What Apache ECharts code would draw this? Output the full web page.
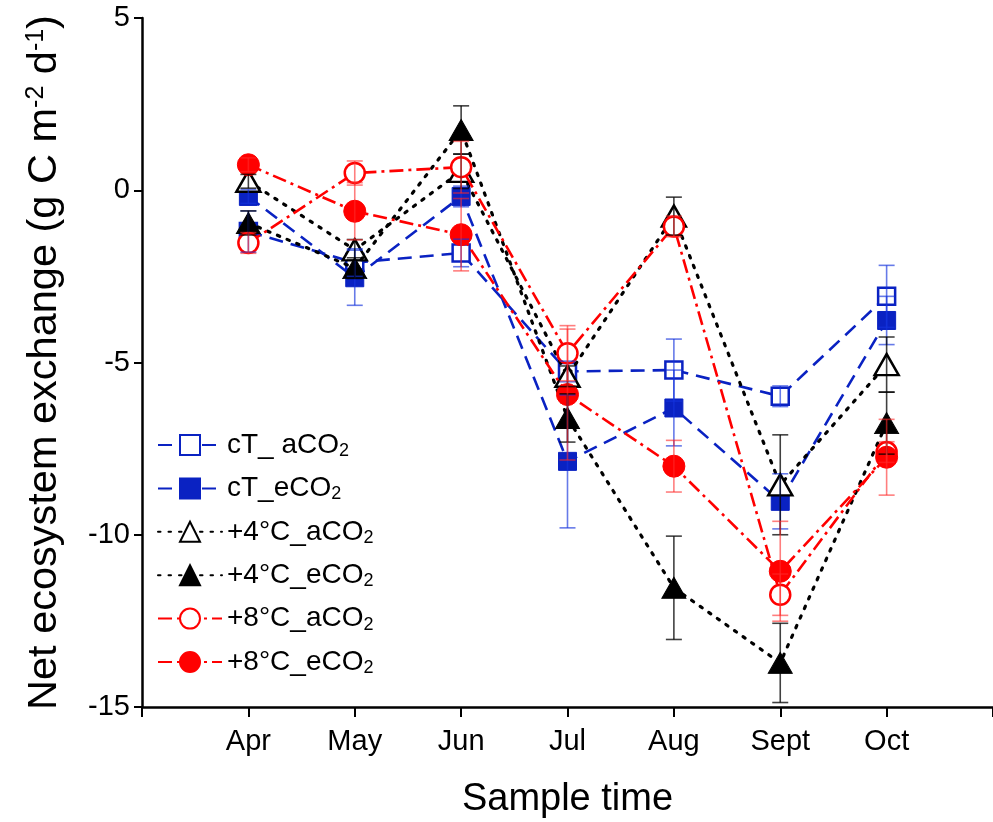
<!DOCTYPE html>
<html><head><meta charset="utf-8">
<script src="https://cdn.jsdelivr.net/npm/echarts@6/dist/echarts.min.js"></script>
<style>html,body{margin:0;padding:0;background:#fff}#c{width:993px;height:822px}</style>
</head><body><div id="c"></div>
<script>
const months = ['Apr','May','Jun','Jul','Aug','Sept','Oct'];
const seriesNames = ['cT_ aCO2','cT_eCO2','+4°C_aCO2','+4°C_eCO2','+8°C_aCO2','+8°C_eCO2'];
const yTicks = [-15,-10,-5,0,5];

const cT_aCO2     = [-1.20, -2.10, -1.82, -5.26, -5.22, -5.98, -3.08];
const cT_aCO2_err = [0.60, 0.40, 0.40, 0.30, 0.90, 0.30, 0.90];
const cT_eCO2     = [-0.18, -2.54, -0.18, -7.87, -6.32, -9.03, -3.78];
const cT_eCO2_err = [0.20, 0.80, 0.30, 1.93, 1.10, 0.80, 0.70];
const w4_aCO2     = [0.26, -1.73, 0.55, -5.40, -0.75, -8.55, -5.06];
const w4_aCO2_err = [0.20, 0.30, 0.50, 0.30, 0.55, 1.45, 0.80];
const w4_eCO2     = [-0.95, -2.26, 1.75, -6.61, -11.54, -13.72, -6.76];
const w4_eCO2_err = [0.35, 0.30, 0.70, 0.70, 1.50, 1.15, 0.90];
const w8_aCO2     = [-1.53, 0.50, 0.67, -4.73, -1.05, -11.74, -7.60];
const w8_aCO2_err = [0.30, 0.35, 0.75, 0.80, 0.30, 0.60, 0.30];
const w8_eCO2     = [0.74, -0.61, -1.29, -5.93, -8.01, -11.06, -7.75];
const w8_eCO2_err = [0.20, 0.83, 1.05, 1.90, 0.75, 1.45, 1.10];

const FONT = 'Liberation Sans, Arial, sans-serif';
const BLUE = '#0a22c2', RED = '#ff0000', BLACK = '#000000';

const defs = [
  {name: seriesNames[0], vals: cT_aCO2, errs: cT_aCO2_err, color: BLUE, symbol: 'rect', size: 17, open: true, dash: [14, 8], errColor: 'rgba(20,50,220,0.65)'},
  {name: seriesNames[1], vals: cT_eCO2, errs: cT_eCO2_err, color: BLUE, symbol: 'rect', size: 18, open: false, dash: [14, 8], errColor: 'rgba(20,50,220,0.65)'},
  {name: seriesNames[2], vals: w4_aCO2, errs: w4_aCO2_err, color: BLACK, symbol: 'triangle', size: [24, 21], open: true, dash: [2.5, 8], errColor: 'rgba(0,0,0,0.75)'},
  {name: seriesNames[3], vals: w4_eCO2, errs: w4_eCO2_err, color: BLACK, symbol: 'triangle', size: [24, 21], open: false, dash: [2.5, 8], errColor: 'rgba(0,0,0,0.75)'},
  {name: seriesNames[4], vals: w8_aCO2, errs: w8_aCO2_err, color: RED, symbol: 'circle', size: 20, open: true, dash: [14, 5, 3, 5], errColor: 'rgba(255,40,40,0.6)'},
  {name: seriesNames[5], vals: w8_eCO2, errs: w8_eCO2_err, color: RED, symbol: 'circle', size: 22, open: false, dash: [14, 5, 3, 5], errColor: 'rgba(255,40,40,0.6)'}
];

function errRenderer(color) {
  return function (params, api) {
    const x = api.value(0), y = api.value(1), e = api.value(2);
    const top = api.coord([x, y + e]);
    const bot = api.coord([x, y - e]);
    const w = 8;
    const st = {stroke: color, lineWidth: 1.6, fill: null};
    return {type: 'group', children: [
      {type: 'line', shape: {x1: top[0], y1: top[1], x2: bot[0], y2: bot[1]}, style: st},
      {type: 'line', shape: {x1: top[0] - w, y1: top[1], x2: top[0] + w, y2: top[1]}, style: st},
      {type: 'line', shape: {x1: bot[0] - w, y1: bot[1], x2: bot[0] + w, y2: bot[1]}, style: st}
    ]};
  };
}

const series = [];
defs.forEach((d, k) => {
  series.push({
    name: d.name,
    type: 'line',
    data: d.vals.map((v, i) => [i + 1, v]),
    symbol: d.symbol,
    symbolSize: d.size,
    showSymbol: true,
    lineStyle: {color: d.color, width: d.color === BLACK ? 3.2 : 2.6, type: d.dash, cap: d.color === BLACK ? 'round' : 'butt'},
    itemStyle: d.open ? {color: '#ffffff', borderColor: d.color, borderWidth: 2.5} : {color: d.color, borderColor: d.color, borderWidth: 1},
    z: 2 + k,
    animation: false
  });
});
defs.forEach((d, k) => {
  series.push({
    name: d.name + ' err',
    type: 'custom',
    renderItem: errRenderer(d.errColor),
    data: d.vals.map((v, i) => [i + 1, v, d.errs[i]]),
    encode: {x: 0, y: 1},
    z: 10,
    silent: true,
    animation: false
  });
});

const chart = echarts.init(document.getElementById('c'), null, {renderer: 'canvas'});
chart.setOption({
  backgroundColor: '#ffffff',
  animation: false,
  textStyle: {fontFamily: FONT},
  grid: {left: 142, right: 0, top: 18, bottom: 115, outerBoundsMode: 'none'},
  legend: {
    data: seriesNames,
    orient: 'vertical',
    left: 152,
    top: 426,
    itemWidth: 64,
    itemHeight: 25,
    itemGap: 14.4,
    textStyle: {fontFamily: FONT, fontSize: 28, color: '#000', rich: {
      s: {fontFamily: FONT, fontSize: 18, color: '#000', verticalAlign: 'bottom', padding: [12, 0, 0, 0]}
    }},
    formatter: function (n) { return n.replace(/2$/, '{s|2}'); }
  },
  xAxis: {
    type: 'value', min: 0, max: 8, interval: 1,
    axisLine: {onZero: false, lineStyle: {color: '#000', width: 2.5}},
    axisTick: {length: 10, lineStyle: {color: '#000', width: 2}},
    splitLine: {show: false},
    axisLabel: {fontFamily: FONT, fontSize: 29, color: '#000', margin: 20,
      formatter: function (v) { return (v >= 1 && v <= months.length) ? months[v - 1] : ''; }},
    name: 'Sample time', nameLocation: 'middle', nameGap: 74,
    nameTextStyle: {fontFamily: FONT, fontSize: 38, color: '#000'}
  },
  yAxis: {
    type: 'value', min: yTicks[0], max: yTicks[yTicks.length - 1], interval: 5,
    axisLine: {show: true, lineStyle: {color: '#000', width: 2.5}},
    axisTick: {show: true, length: 8, lineStyle: {color: '#000', width: 2}},
    splitLine: {show: false},
    axisLabel: {fontFamily: FONT, fontSize: 29, color: '#000', margin: 12},
    name: 'Net ecosystem exchange (g C m{p|-2} d{p|-1})',
    nameLocation: 'middle', nameGap: 76, nameRotate: 90,
    nameTextStyle: {fontFamily: FONT, fontSize: 41.5, color: '#000', rich: {
      p: {fontFamily: FONT, fontSize: 25, color: '#000', verticalAlign: 'top', padding: [0, 0, 14, 0]}
    }}
  },
  series: series
});
</script>
</body></html>
